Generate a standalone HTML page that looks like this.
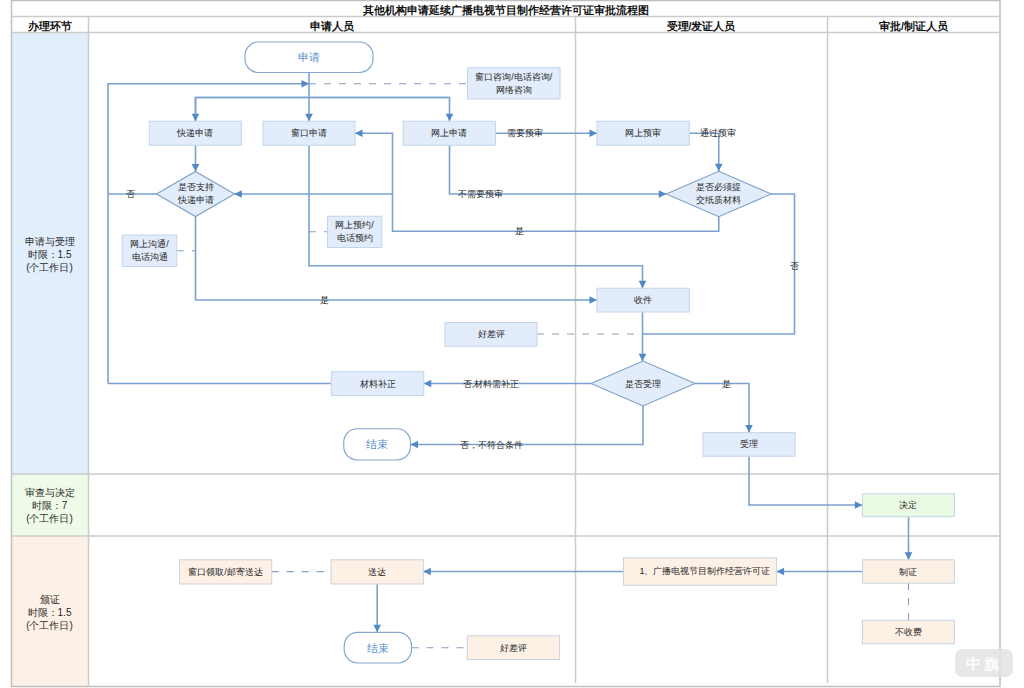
<!DOCTYPE html>
<html><head><meta charset="utf-8"><style>
html,body{margin:0;padding:0;background:#fff;width:1024px;height:688px;overflow:hidden}
svg{position:absolute;left:0;top:0;display:block}
text{font-family:"Liberation Sans",sans-serif}
</style></head><body>
<svg width="1024" height="688" viewBox="0 0 1024 688">
<rect x="11" y="32.5" width="77" height="441.5" fill="#e3eefc"/>
<rect x="11" y="474" width="77" height="62" fill="#effbe9"/>
<rect x="11" y="536" width="77" height="151" fill="#fdf1e7"/>
<rect x="11.5" y="0.5" width="988.5" height="686" fill="none" stroke="#bfbfbf" stroke-width="1.5"/>
<line x1="11" y1="16.5" x2="1000" y2="16.5" stroke="#cbcbcb" stroke-width="1.5"/>
<line x1="11" y1="32.5" x2="1000" y2="32.5" stroke="#cbcbcb" stroke-width="1.5"/>
<line x1="11" y1="474" x2="1000" y2="474" stroke="#cbcbcb" stroke-width="1.5"/>
<line x1="11" y1="536" x2="1000" y2="536" stroke="#cbcbcb" stroke-width="1.5"/>
<line x1="88.5" y1="16.5" x2="88.5" y2="687" stroke="#cbcbcb" stroke-width="1.5"/>
<line x1="575.5" y1="16.5" x2="575.5" y2="683" stroke="#cbcbcb" stroke-width="1.5"/>
<line x1="827.5" y1="16.5" x2="827.5" y2="683" stroke="#cbcbcb" stroke-width="1.5"/>
<text x="505.5" y="10" font-size="10.6" fill="#111" font-weight="bold" text-anchor="middle" dominant-baseline="central">其他机构申请延续广播电视节目制作经营许可证审批流程图</text>
<text x="49.5" y="25.5" font-size="10.6" fill="#111" font-weight="bold" text-anchor="middle" dominant-baseline="central">办理环节</text>
<text x="331.5" y="25.5" font-size="10.6" fill="#111" font-weight="bold" text-anchor="middle" dominant-baseline="central">申请人员</text>
<text x="701" y="25.5" font-size="10.6" fill="#111" font-weight="bold" text-anchor="middle" dominant-baseline="central">受理/发证人员</text>
<text x="913.5" y="25.5" font-size="10.6" fill="#111" font-weight="bold" text-anchor="middle" dominant-baseline="central">审批/制证人员</text>
<text x="49.5" y="241" font-size="10" fill="#262626" font-weight="normal" text-anchor="middle" dominant-baseline="central">申请与受理</text>
<text x="49.5" y="254" font-size="10" fill="#262626" font-weight="normal" text-anchor="middle" dominant-baseline="central">时限：1.5</text>
<text x="49.5" y="267" font-size="10" fill="#262626" font-weight="normal" text-anchor="middle" dominant-baseline="central">(个工作日)</text>
<text x="49.5" y="492.5" font-size="10" fill="#262626" font-weight="normal" text-anchor="middle" dominant-baseline="central">审查与决定</text>
<text x="49.5" y="505.5" font-size="10" fill="#262626" font-weight="normal" text-anchor="middle" dominant-baseline="central">时限：7</text>
<text x="49.5" y="518.5" font-size="10" fill="#262626" font-weight="normal" text-anchor="middle" dominant-baseline="central">(个工作日)</text>
<text x="49.5" y="599.5" font-size="10" fill="#262626" font-weight="normal" text-anchor="middle" dominant-baseline="central">颁证</text>
<text x="49.5" y="612.5" font-size="10" fill="#262626" font-weight="normal" text-anchor="middle" dominant-baseline="central">时限：1.5</text>
<text x="49.5" y="625.5" font-size="10" fill="#262626" font-weight="normal" text-anchor="middle" dominant-baseline="central">(个工作日)</text>
<path d="M309,72.5 L309,121.25" fill="none" stroke="#7ba2cf" stroke-width="1.6"/>
<polygon points="309,121.25 305.2,113.75 312.8,113.75" fill="#5088c8"/>
<path d="M108,383.5 L108,83.75 L309,83.75" fill="none" stroke="#7ba2cf" stroke-width="1.6"/>
<polygon points="309,83.75 301.5,79.95 301.5,87.55" fill="#5088c8"/>
<path d="M309,83.75 L467.5,83.75" fill="none" stroke="#849fbf" stroke-width="1.1" stroke-dasharray="7,8"/>
<path d="M195.5,121.25 L195.5,97.5 L449.5,97.5 L449.5,121.25" fill="none" stroke="#7ba2cf" stroke-width="1.6"/>
<polygon points="449.5,121.25 445.7,113.75 453.3,113.75" fill="#5088c8"/>
<path d="M449.5,97.5 L195.5,97.5 L195.5,121.25" fill="none" stroke="#7ba2cf" stroke-width="1.6"/>
<polygon points="195.5,121.25 191.7,113.75 199.3,113.75" fill="#5088c8"/>
<path d="M195.5,145.25 L195.5,171.5" fill="none" stroke="#7ba2cf" stroke-width="1.6"/>
<polygon points="195.5,171.5 191.7,164.0 199.3,164.0" fill="#5088c8"/>
<path d="M156.75,194 L108,194" fill="none" stroke="#7ba2cf" stroke-width="1.6"/>
<path d="M392.5,194 L234.25,194" fill="none" stroke="#7ba2cf" stroke-width="1.6"/>
<polygon points="234.25,194 241.75,190.2 241.75,197.8" fill="#5088c8"/>
<path d="M718.75,216.75 L718.75,231.25 L392.5,231.25 L392.5,133.25 L355,133.25" fill="none" stroke="#7ba2cf" stroke-width="1.6"/>
<polygon points="355,133.25 362.5,129.45 362.5,137.05" fill="#5088c8"/>
<path d="M495.5,133.25 L597,133.25" fill="none" stroke="#7ba2cf" stroke-width="1.6"/>
<polygon points="597,133.25 589.5,129.45 589.5,137.05" fill="#5088c8"/>
<path d="M689.25,133.25 L718.75,133.25 L718.75,171.25" fill="none" stroke="#7ba2cf" stroke-width="1.6"/>
<polygon points="718.75,171.25 714.95,163.75 722.55,163.75" fill="#5088c8"/>
<path d="M449.5,145.25 L449.5,194 L666.25,194" fill="none" stroke="#7ba2cf" stroke-width="1.6"/>
<polygon points="666.25,194 658.75,190.2 658.75,197.8" fill="#5088c8"/>
<path d="M771.25,194 L794.5,194 L794.5,334 L642.5,334" fill="none" stroke="#7ba2cf" stroke-width="1.6"/>
<path d="M537,334 L642.5,334" fill="none" stroke="#849fbf" stroke-width="1.1" stroke-dasharray="7,8"/>
<path d="M176.75,250.75 L195.5,250.75" fill="none" stroke="#849fbf" stroke-width="1.1" stroke-dasharray="7,8"/>
<path d="M309,231.75 L327.5,231.75" fill="none" stroke="#849fbf" stroke-width="1.1" stroke-dasharray="7,8"/>
<path d="M309,145.25 L309,265.75 L642.5,265.75 L642.5,288.25" fill="none" stroke="#7ba2cf" stroke-width="1.6"/>
<polygon points="642.5,288.25 638.7,280.75 646.3,280.75" fill="#5088c8"/>
<path d="M195.5,216.25 L195.5,300 L597,300" fill="none" stroke="#7ba2cf" stroke-width="1.6"/>
<polygon points="597,300 589.5,296.2 589.5,303.8" fill="#5088c8"/>
<path d="M642.5,312 L642.5,361.25" fill="none" stroke="#7ba2cf" stroke-width="1.6"/>
<polygon points="642.5,361.25 638.7,353.75 646.3,353.75" fill="#5088c8"/>
<path d="M591.25,383.5 L423.75,383.5" fill="none" stroke="#7ba2cf" stroke-width="1.6"/>
<polygon points="423.75,383.5 431.25,379.7 431.25,387.3" fill="#5088c8"/>
<path d="M331.25,383.5 L108,383.5" fill="none" stroke="#7ba2cf" stroke-width="1.6"/>
<path d="M643,406 L643,444.5 L410.5,444.5" fill="none" stroke="#7ba2cf" stroke-width="1.6"/>
<polygon points="410.5,444.5 418.0,440.7 418.0,448.3" fill="#5088c8"/>
<path d="M695,383.5 L749,383.5 L749,432.6" fill="none" stroke="#7ba2cf" stroke-width="1.6"/>
<polygon points="749,432.6 745.2,425.1 752.8,425.1" fill="#5088c8"/>
<path d="M749,456.2 L749,505 L862.4,505" fill="none" stroke="#7ba2cf" stroke-width="1.6"/>
<polygon points="862.4,505 854.9,501.2 854.9,508.8" fill="#5088c8"/>
<path d="M908.5,516.7 L908.5,559.8" fill="none" stroke="#7ba2cf" stroke-width="1.6"/>
<polygon points="908.5,559.8 904.7,552.3 912.3,552.3" fill="#5088c8"/>
<path d="M862.5,571.5 L776.6,571.5" fill="none" stroke="#7ba2cf" stroke-width="1.6"/>
<polygon points="776.6,571.5 784.1,567.7 784.1,575.3" fill="#5088c8"/>
<path d="M623.4,571.5 L423.3,571.5" fill="none" stroke="#7ba2cf" stroke-width="1.6"/>
<polygon points="423.3,571.5 430.8,567.7 430.8,575.3" fill="#5088c8"/>
<path d="M377.2,584 L377.2,632.3" fill="none" stroke="#7ba2cf" stroke-width="1.6"/>
<polygon points="377.2,632.3 373.4,624.8 381.0,624.8" fill="#5088c8"/>
<path d="M908.5,583.2 L908.5,620.3" fill="none" stroke="#849fbf" stroke-width="1.1" stroke-dasharray="7,8"/>
<path d="M271.7,571.6 L331,571.6" fill="none" stroke="#849fbf" stroke-width="1.1" stroke-dasharray="7,8"/>
<path d="M411.5,647.7 L467.3,647.7" fill="none" stroke="#849fbf" stroke-width="1.1" stroke-dasharray="7,8"/>
<rect x="245" y="42" width="128.00" height="30.50" rx="13.50" ry="13.50" fill="#fff" stroke="#86a8d0" stroke-width="1.2"/>
<text x="309.0" y="57.25" font-size="10.8" fill="#5b8fcc" font-weight="normal" text-anchor="middle" dominant-baseline="central">申请</text>
<rect x="467.5" y="67.75" width="92.50" height="31.25" fill="#e2ecfb" stroke="#c3d5ea" stroke-width="1"/>
<text x="513.75" y="76.875" font-size="9" fill="#262626" font-weight="normal" text-anchor="middle" dominant-baseline="central">窗口咨询/电话咨询/</text>
<text x="513.75" y="89.875" font-size="9" fill="#262626" font-weight="normal" text-anchor="middle" dominant-baseline="central">网络咨询</text>
<rect x="149.25" y="121.25" width="92.00" height="24.00" fill="#e2ecfb" stroke="#c3d5ea" stroke-width="1"/>
<text x="195.25" y="133.25" font-size="9" fill="#262626" font-weight="normal" text-anchor="middle" dominant-baseline="central">快递申请</text>
<rect x="263" y="121.25" width="92.00" height="24.00" fill="#e2ecfb" stroke="#c3d5ea" stroke-width="1"/>
<text x="309.0" y="133.25" font-size="9" fill="#262626" font-weight="normal" text-anchor="middle" dominant-baseline="central">窗口申请</text>
<rect x="403.25" y="121.25" width="92.25" height="24.00" fill="#e2ecfb" stroke="#c3d5ea" stroke-width="1"/>
<text x="449.375" y="133.25" font-size="9" fill="#262626" font-weight="normal" text-anchor="middle" dominant-baseline="central">网上申请</text>
<rect x="597" y="121.25" width="92.25" height="24.00" fill="#e2ecfb" stroke="#c3d5ea" stroke-width="1"/>
<text x="643.125" y="133.25" font-size="9" fill="#262626" font-weight="normal" text-anchor="middle" dominant-baseline="central">网上预审</text>
<polygon points="156.5,194 195.5,171.5 234.5,194 195.5,216.5" fill="#e2ecfb" stroke="#7f9fc6" stroke-width="1.1"/>
<text x="195.5" y="186.7" font-size="9" fill="#262626" font-weight="normal" text-anchor="middle" dominant-baseline="central">是否支持</text>
<text x="195.5" y="199.7" font-size="9" fill="#262626" font-weight="normal" text-anchor="middle" dominant-baseline="central">快递申请</text>
<polygon points="666.25,194 718.75,171.25 771.25,194 718.75,216.75" fill="#e2ecfb" stroke="#7f9fc6" stroke-width="1.1"/>
<text x="718.75" y="186.9" font-size="9" fill="#262626" font-weight="normal" text-anchor="middle" dominant-baseline="central">是否必须提</text>
<text x="718.75" y="199.9" font-size="9" fill="#262626" font-weight="normal" text-anchor="middle" dominant-baseline="central">交纸质材料</text>
<rect x="122.25" y="235" width="54.50" height="31.50" fill="#e2ecfb" stroke="#c3d5ea" stroke-width="1"/>
<text x="149.5" y="244.25" font-size="9" fill="#262626" font-weight="normal" text-anchor="middle" dominant-baseline="central">网上沟通/</text>
<text x="149.5" y="257.25" font-size="9" fill="#262626" font-weight="normal" text-anchor="middle" dominant-baseline="central">电话沟通</text>
<rect x="327.5" y="216.25" width="54.25" height="31.25" fill="#e2ecfb" stroke="#c3d5ea" stroke-width="1"/>
<text x="354.625" y="225.375" font-size="9" fill="#262626" font-weight="normal" text-anchor="middle" dominant-baseline="central">网上预约/</text>
<text x="354.625" y="238.375" font-size="9" fill="#262626" font-weight="normal" text-anchor="middle" dominant-baseline="central">电话预约</text>
<rect x="597" y="288.25" width="92.25" height="23.75" fill="#e2ecfb" stroke="#c3d5ea" stroke-width="1"/>
<text x="643.125" y="300.125" font-size="9" fill="#262626" font-weight="normal" text-anchor="middle" dominant-baseline="central">收件</text>
<rect x="445" y="322.5" width="92.00" height="23.75" fill="#e2ecfb" stroke="#c3d5ea" stroke-width="1"/>
<text x="491.0" y="334.375" font-size="9" fill="#262626" font-weight="normal" text-anchor="middle" dominant-baseline="central">好差评</text>
<polygon points="591,383.5 643,361.0 695,383.5 643,406.0" fill="#e2ecfb" stroke="#7f9fc6" stroke-width="1.1"/>
<text x="643" y="383.5" font-size="9" fill="#262626" font-weight="normal" text-anchor="middle" dominant-baseline="central">是否受理</text>
<rect x="331.25" y="371.75" width="92.50" height="23.75" fill="#e2ecfb" stroke="#c3d5ea" stroke-width="1"/>
<text x="377.5" y="383.625" font-size="9" fill="#262626" font-weight="normal" text-anchor="middle" dominant-baseline="central">材料补正</text>
<rect x="343.75" y="428.75" width="66.75" height="31.25" rx="13.50" ry="13.50" fill="#fff" stroke="#86a8d0" stroke-width="1.2"/>
<text x="377.125" y="444.375" font-size="10.8" fill="#5b8fcc" font-weight="normal" text-anchor="middle" dominant-baseline="central">结束</text>
<rect x="703" y="432.6" width="92.00" height="23.60" fill="#e2ecfb" stroke="#c3d5ea" stroke-width="1"/>
<text x="749.0" y="444.4" font-size="9" fill="#262626" font-weight="normal" text-anchor="middle" dominant-baseline="central">受理</text>
<rect x="862.4" y="493.8" width="92.00" height="22.90" fill="#eafbe3" stroke="#c3d5ea" stroke-width="1"/>
<text x="908.4" y="505.25" font-size="9" fill="#262626" font-weight="normal" text-anchor="middle" dominant-baseline="central">决定</text>
<rect x="862.5" y="559.8" width="91.80" height="23.40" fill="#fdf0e5" stroke="#c9d3df" stroke-width="1"/>
<text x="908.4" y="571.5" font-size="9" fill="#262626" font-weight="normal" text-anchor="middle" dominant-baseline="central">制证</text>
<rect x="623.4" y="557.8" width="153.20" height="27.40" fill="#fdf0e5" stroke="#c9d3df" stroke-width="1"/>
<text x="705.0" y="570.5" font-size="9" fill="#262626" font-weight="normal" text-anchor="middle" dominant-baseline="central">1、广播电视节目制作经营许可证</text>
<rect x="862.5" y="620.3" width="91.80" height="23.45" fill="#fdf0e5" stroke="#c9d3df" stroke-width="1"/>
<text x="908.4" y="632.025" font-size="9" fill="#262626" font-weight="normal" text-anchor="middle" dominant-baseline="central">不收费</text>
<rect x="179.4" y="559.8" width="92.30" height="24.20" fill="#fdf0e5" stroke="#c9d3df" stroke-width="1"/>
<text x="225.55" y="571.9" font-size="9" fill="#262626" font-weight="normal" text-anchor="middle" dominant-baseline="central">窗口领取/邮寄送达</text>
<rect x="331" y="559.8" width="92.30" height="24.20" fill="#fdf0e5" stroke="#c9d3df" stroke-width="1"/>
<text x="377.15" y="571.9" font-size="9" fill="#262626" font-weight="normal" text-anchor="middle" dominant-baseline="central">送达</text>
<rect x="344.2" y="632.3" width="67.30" height="30.70" rx="13.50" ry="13.50" fill="#fff" stroke="#86a8d0" stroke-width="1.2"/>
<text x="377.85" y="647.65" font-size="10.8" fill="#5b8fcc" font-weight="normal" text-anchor="middle" dominant-baseline="central">结束</text>
<rect x="467.3" y="635.8" width="92.30" height="23.70" fill="#fdf0e5" stroke="#c9d3df" stroke-width="1"/>
<text x="513.45" y="647.65" font-size="9" fill="#262626" font-weight="normal" text-anchor="middle" dominant-baseline="central">好差评</text>
<text x="130.5" y="194" font-size="9" fill="#262626" font-weight="normal" text-anchor="middle" dominant-baseline="central">否</text>
<text x="525" y="133.25" font-size="9" fill="#262626" font-weight="normal" text-anchor="middle" dominant-baseline="central">需要预审</text>
<text x="718" y="133.25" font-size="9" fill="#262626" font-weight="normal" text-anchor="middle" dominant-baseline="central">通过预审</text>
<text x="480" y="194" font-size="9" fill="#262626" font-weight="normal" text-anchor="middle" dominant-baseline="central">不需要预审</text>
<text x="519" y="231.25" font-size="9" fill="#262626" font-weight="normal" text-anchor="middle" dominant-baseline="central">是</text>
<text x="794.5" y="266" font-size="9" fill="#262626" font-weight="normal" text-anchor="middle" dominant-baseline="central">否</text>
<text x="324" y="300" font-size="9" fill="#262626" font-weight="normal" text-anchor="middle" dominant-baseline="central">是</text>
<text x="491" y="383.5" font-size="9" fill="#262626" font-weight="normal" text-anchor="middle" dominant-baseline="central">否,材料需补正</text>
<text x="491" y="444.5" font-size="9" fill="#262626" font-weight="normal" text-anchor="middle" dominant-baseline="central">否，不符合条件</text>
<text x="726" y="383.5" font-size="9" fill="#262626" font-weight="normal" text-anchor="middle" dominant-baseline="central">是</text>
<rect x="955" y="649" width="58" height="28" rx="7" fill="#e3e3e3" fill-opacity="0.85"/>
<text x="984" y="663.5" font-size="15" fill="#fff" fill-opacity="0.9" font-weight="bold" text-anchor="middle" dominant-baseline="central" letter-spacing="3">中旗</text>
</svg>
</body></html>
